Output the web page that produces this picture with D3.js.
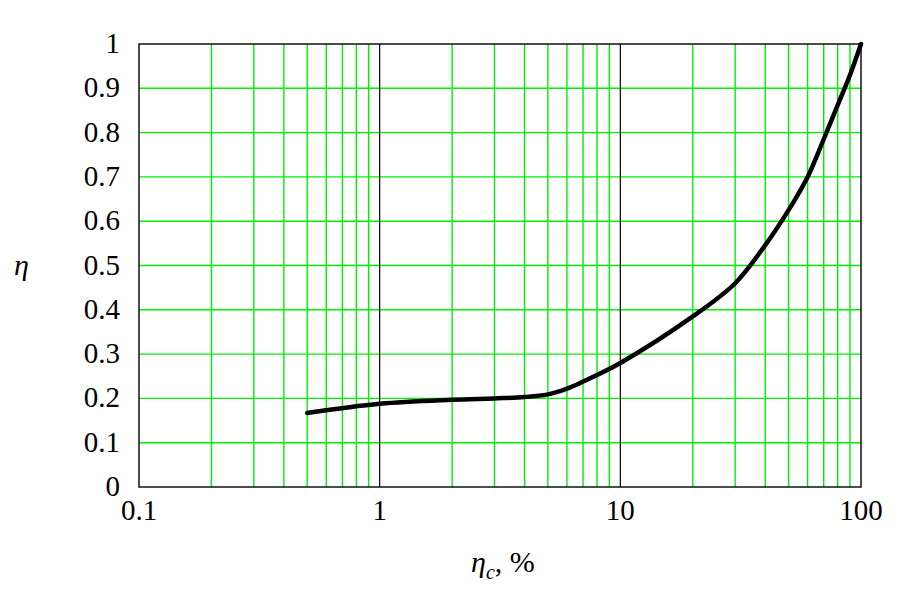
<!DOCTYPE html>
<html>
<head>
<meta charset="utf-8">
<script src="https://cdn.jsdelivr.net/npm/d3@7"></script>
<style>
  body { margin: 0; background: #fff; }
</style>
</head>
<body>
<div id="chart"></div>
<script>
// curve
var etaC = [0.5, 1, 2, 3, 4, 5, 6, 7, 10, 20, 30, 40, 50, 60, 70, 80, 90, 100];
var eta  = [0.167, 0.188, 0.197, 0.2, 0.203, 0.209, 0.222, 0.238, 0.28, 0.385, 0.46, 0.546, 0.625, 0.70, 0.785, 0.862, 0.93, 1.0];
var xTicks = [0.1, 1, 10, 100];
var yTicks = [0, 0.1, 0.2, 0.3, 0.4, 0.5, 0.6, 0.7, 0.8, 0.9, 1];

var FONT = "'Liberation Serif', 'Times New Roman', 'DejaVu Serif', serif";

var svg = d3.select("#chart").append("svg").attr("width", 906).attr("height", 590)
    .attr("font-family", FONT);
var pL = 139, pR = 861, pT = 44, pB = 487;

var x = d3.scaleLog().domain([0.1, 100]).range([pL, pR]);
var y = d3.scaleLinear().domain([0, 1]).range([pB, pT]);

// minor log gridlines
var minor = [];
[0.1, 1, 10].forEach(function(d) {
    for (var k = 2; k <= 9; k++) minor.push(d * k);
});

svg.append("g").selectAll("line").data(minor).enter().append("line")
    .attr("x1", function(d) { return x(d); }).attr("x2", function(d) { return x(d); })
    .attr("y1", pT).attr("y2", pB)
    .style("stroke", "#00f000").style("stroke-width", 1.4);

svg.append("g").selectAll("line").data(yTicks.slice(1, -1)).enter().append("line")
    .attr("x1", pL).attr("x2", pR)
    .attr("y1", function(d) { return y(d); }).attr("y2", function(d) { return y(d); })
    .style("stroke", "#00f000").style("stroke-width", 1.4);

// decade lines
svg.append("g").selectAll("line").data([1, 10]).enter().append("line")
    .attr("x1", function(d) { return x(d); }).attr("x2", function(d) { return x(d); })
    .attr("y1", pT).attr("y2", pB)
    .style("stroke", "#000").style("stroke-width", 1.2);

svg.append("rect")
    .attr("x", pL).attr("y", pT).attr("width", pR - pL).attr("height", pB - pT)
    .style("fill", "none").style("stroke", "#000").style("stroke-width", 1.4);

// tick labels
svg.append("g").selectAll("text").data(yTicks).enter().append("text")
    .attr("x", 120).attr("y", function(d) { return y(d) + 9; })
    .attr("text-anchor", "end").attr("font-size", 29)
    .text(function(d) { return d; });

svg.append("g").selectAll("text").data(xTicks).enter().append("text")
    .attr("x", function(d) { return x(d); }).attr("y", 520)
    .attr("text-anchor", "middle").attr("font-size", 29)
    .text(function(d) { return d; });

// axis titles
svg.append("text").attr("x", 14).attr("y", 275)
    .attr("font-size", 30).attr("font-style", "italic").text("η");

var xl = svg.append("text").attr("x", 471).attr("y", 572).attr("font-size", 30);
xl.append("tspan").attr("font-style", "italic").text("η");
xl.append("tspan").attr("dy", 7).attr("font-size", 20).attr("font-style", "italic").text("c");
xl.append("tspan").attr("dy", -7).text(", %");

// curve
var pts = etaC.map(function(d, i) { return [d, eta[i]]; });
var line = d3.line()
    .x(function(d) { return x(d[0]); })
    .y(function(d) { return y(d[1]); })
    .curve(d3.curveCatmullRom.alpha(0.5));

svg.append("path").datum(pts)
    .attr("d", line)
    .style("fill", "none").style("stroke", "#000").style("stroke-width", 4.5)
    .style("stroke-linecap", "round");
</script>
</body>
</html>
